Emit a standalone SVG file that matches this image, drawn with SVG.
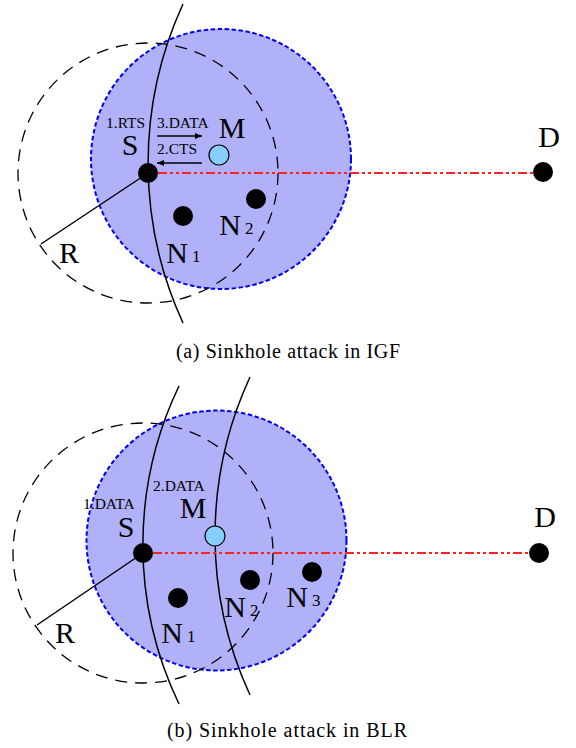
<svg xmlns="http://www.w3.org/2000/svg" width="576" height="748" viewBox="0 0 576 748">
<style>
text{font-family:"Liberation Serif","Times New Roman",serif;fill:#000}
.big{font-size:30px}
.sub{font-size:17px}
.sm{font-size:15.5px}
.cap{font-size:20px}
.zone{fill:#b1b1f9;stroke:#0000f0;stroke-width:2;stroke-dasharray:4.5,2.5}
.range{fill:none;stroke:#000;stroke-width:1.3;stroke-dasharray:12,8}
.arc{fill:none;stroke:#000;stroke-width:1.5}
.red{stroke:#ff2020;stroke-width:1.8;stroke-dasharray:9,3,3,3,3,3;fill:none}
.rad{stroke:#000;stroke-width:1.5;fill:none}
.blk{fill:#000}
.mal{fill:#87cefa;stroke:#000;stroke-width:1.2}
.arr{stroke:#000;stroke-width:1.6;fill:none;marker-end:url(#ah)}
</style>
<defs>
<marker id="ah" markerWidth="8" markerHeight="8" refX="7" refY="4" orient="auto" markerUnits="userSpaceOnUse">
<path d="M0,1 L7,4 L0,7 Z" fill="#000"/>
</marker>
</defs>

<!-- Panel (a) -->
<g id="panel-a-background">
<circle class="zone" cx="221" cy="159" r="130"/>
<circle class="range" cx="148" cy="173" r="130"/>
<path class="arc" d="M183,4 A382,382 0 0,0 183,323"/>
</g>
<g id="connectors-a">
<line class="red" x1="158" y1="173" x2="543" y2="173"/>
<line class="rad" x1="148" y1="173" x2="41" y2="244"/>
<line class="arr" x1="157" y1="136" x2="202" y2="136"/>
<line class="arr" x1="202" y1="163" x2="157" y2="163"/>
</g>
<g id="a-S">
<circle class="blk" cx="148" cy="173" r="10"/>
<text class="big" x="130" y="155" text-anchor="middle">S</text>
<text class="sm" x="106" y="128">1.RTS</text>
</g>
<g id="a-M">
<circle class="mal" cx="219" cy="155" r="10"/>
<text class="big" x="232" y="138" text-anchor="middle">M</text>
<text class="sm" x="157" y="128">3.DATA</text>
<text class="sm" x="157" y="154">2.CTS</text>
</g>
<g id="a-N1">
<circle class="blk" cx="183" cy="216" r="10"/>
<text class="big" x="177" y="263" text-anchor="middle">N</text>
<text class="sub" x="192" y="262">1</text>
</g>
<g id="a-N2">
<circle class="blk" cx="256" cy="199" r="10"/>
<text class="big" x="230" y="235" text-anchor="middle">N</text>
<text class="sub" x="245" y="234">2</text>
</g>
<g id="a-D">
<circle class="blk" cx="543" cy="172" r="10"/>
<text class="big" x="549" y="147" text-anchor="middle">D</text>
</g>
<g id="a-R">
<text class="big" x="69" y="263" text-anchor="middle">R</text>
</g>
<text class="cap" x="176" y="358" textLength="224" lengthAdjust="spacing">(a) Sinkhole attack in IGF</text>

<!-- Panel (b) -->
<g id="panel-b-background">
<circle class="zone" cx="216.5" cy="540.5" r="130"/>
<circle class="range" cx="143" cy="553" r="130"/>
<path class="arc" d="M179,386 A368,368 0 0,0 179,704"/>
<path class="arc" d="M250,377 A379,379 0 0,0 250,695"/>
</g>
<g id="connectors-b">
<line class="red" x1="153" y1="553" x2="539" y2="553"/>
<line class="rad" x1="143" y1="553" x2="37" y2="625"/>
</g>
<g id="b-S">
<circle class="blk" cx="143" cy="553" r="10"/>
<text class="big" x="126" y="537" text-anchor="middle">S</text>
<text class="sm" x="83" y="509">1.DATA</text>
</g>
<g id="b-M">
<circle class="mal" cx="215" cy="536" r="10"/>
<text class="big" x="193" y="518" text-anchor="middle">M</text>
<text class="sm" x="153" y="491">2.DATA</text>
</g>
<g id="b-N1">
<circle class="blk" cx="178" cy="598" r="10"/>
<text class="big" x="172" y="643" text-anchor="middle">N</text>
<text class="sub" x="187" y="642">1</text>
</g>
<g id="b-N2">
<circle class="blk" cx="250" cy="580" r="10"/>
<text class="big" x="235" y="617" text-anchor="middle">N</text>
<text class="sub" x="250" y="616">2</text>
</g>
<g id="b-N3">
<circle class="blk" cx="312" cy="572" r="10"/>
<text class="big" x="297" y="607" text-anchor="middle">N</text>
<text class="sub" x="312" y="606">3</text>
</g>
<g id="b-D">
<circle class="blk" cx="539" cy="553" r="10"/>
<text class="big" x="545" y="527" text-anchor="middle">D</text>
</g>
<g id="b-R">
<text class="big" x="65" y="643" text-anchor="middle">R</text>
</g>
<text class="cap" x="167" y="737" textLength="240" lengthAdjust="spacing">(b) Sinkhole attack in BLR</text>
</svg>
